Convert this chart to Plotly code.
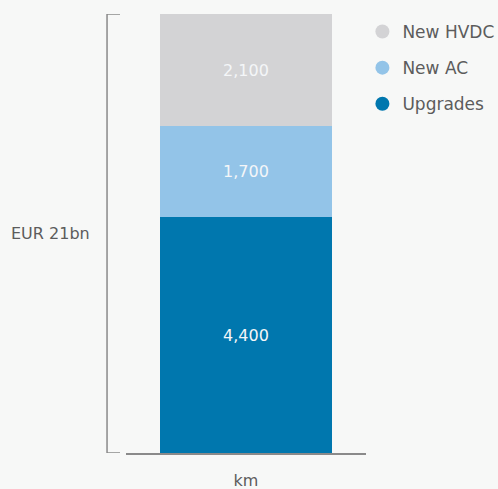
import plotly.graph_objects as go

# Network expansion by type, in km
category = ["km"]
series_names = ["Upgrades", "New AC", "New HVDC"]
series_values = [4400, 1700, 2100]
series_colors = ["#0077ae", "#93c4e8", "#d3d3d5"]
total_label = "EUR 21bn"

BG = "#f7f8f7"
TXT = "#5c5c5c"
LINE = "#8a8a8a"
FONT = "DejaVu Sans"

fig = go.Figure()

# Stacked bar segments
for name, val, col in zip(series_names, series_values, series_colors):
    fig.add_trace(go.Bar(
        x=category, y=[val], name=name,
        marker=dict(color=col, line=dict(width=0)),
        width=0.72,
        text=[f"{val:,}"], textposition="inside", insidetextanchor="middle",
        textfont=dict(color="#f4f6f8", size=16, family=FONT),
        showlegend=False, hoverinfo="skip",
    ))

# Round legend markers, top entry first
for i, (name, col) in enumerate(reversed(list(zip(series_names, series_colors)))):
    fig.add_trace(go.Scatter(
        x=[None], y=[None], mode="markers", name=name,
        marker=dict(symbol="circle", size=14, color=col),
        legendgroup=f"g{i}", legendrank=i,
    ))

total = sum(series_values)

# Bracket spanning the full stack
bx, tick = -0.079, -0.025
fig.add_shape(type="path", xref="paper", yref="y",
              path=f"M {tick},{total} L {bx},{total} L {bx},0 L {tick},0",
              line=dict(color=LINE, width=1.5))
fig.add_annotation(x=-0.14, y=total / 2, xref="paper", yref="y",
                   text=total_label, showarrow=False, xanchor="right",
                   font=dict(size=16, color=TXT, family=FONT))

fig.update_layout(
    width=498, height=489,
    margin=dict(l=126, r=132, t=14, b=36, autoexpand=False),
    paper_bgcolor=BG, plot_bgcolor=BG,
    barmode="stack", bargap=0,
    font=dict(family=FONT, size=15, color=TXT),
    xaxis=dict(showline=True, linecolor=LINE, linewidth=1.5, showgrid=False,
               ticks="outside", ticklen=12, tickcolor="rgba(0,0,0,0)",
               tickfont=dict(size=16, color=TXT), fixedrange=True),
    yaxis=dict(range=[0, total], visible=False, showgrid=False, fixedrange=True),
    legend=dict(x=0.985, y=1.0, xanchor="left", yanchor="top",
                bgcolor="rgba(0,0,0,0)", tracegroupgap=11,
                font=dict(size=17, color=TXT, family=FONT)),
    showlegend=True,
)

fig.write_html("out.html")
